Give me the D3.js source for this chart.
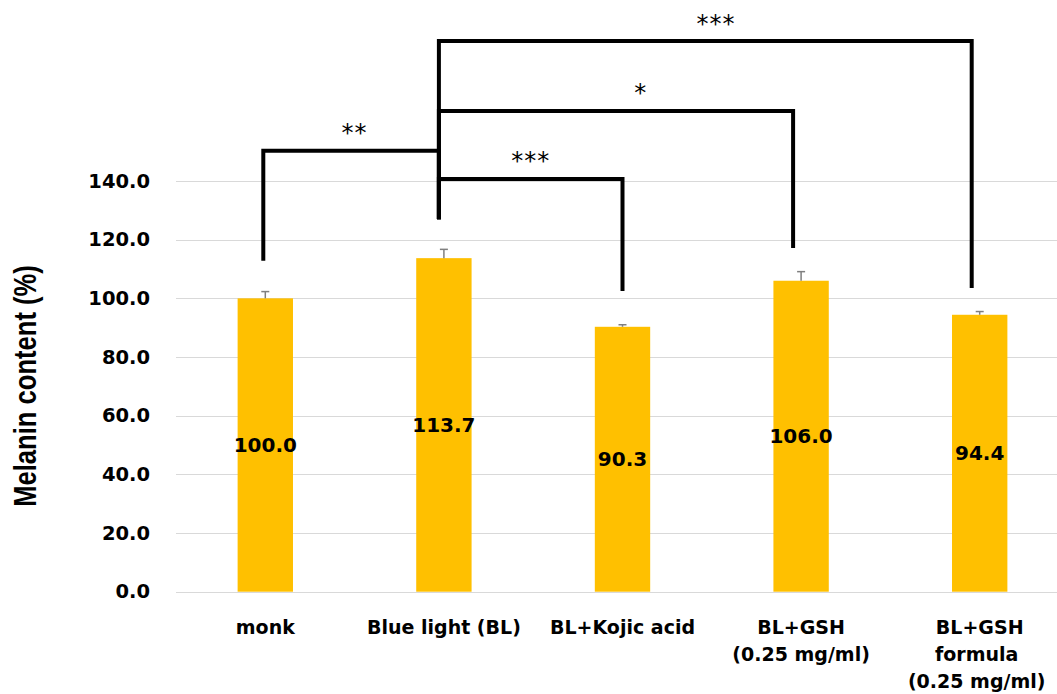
<!DOCTYPE html>
<html>
<head>
<meta charset="utf-8">
<script src="https://cdn.jsdelivr.net/npm/d3@7"></script>
<style>
  body { margin: 0; background: #fff; }
  svg { display: block; }
</style>
</head>
<body>
<div id="grafico"></div>
<script>
// Datos del grafico
var categorias = ["monk", "Blue light (BL)", "BL+Kojic acid", "BL+GSH (0.25 mg/ml)", "BL+GSH formula (0.25 mg/ml)"];
var etiquetasX = [["monk"], ["Blue light (BL)"], ["BL+Kojic acid"], ["BL+GSH", "(0.25 mg/ml)"], ["BL+GSH", "formula", "(0.25 mg/ml)"]];
var valores = [100.0, 113.7, 90.3, 106.0, 94.4];
var errores = [2.3, 3.0, 0.7, 3.1, 1.1];
var ticksY = [0, 20, 40, 60, 80, 100, 120, 140];

// Comparaciones (valores en unidades del eje Y)
var finLineas = [112.8, 127.0, 102.5, 117.2, 103.5];
var comparaciones = [
    { a: 1, b: 4, nivel: 187.7, signo: "***" },
    { a: 1, b: 3, nivel: 163.9, signo: "*" },
    { a: 0, b: 1, nivel: 150.3, signo: "**" },
    { a: 1, b: 2, nivel: 140.7, signo: "***" }
];

var width = 1057;
var height = 694;

var svg = d3.select("#grafico")
    .append("svg")
    .attr("width", width)
    .attr("height", height);

var x = d3.scaleBand()
    .domain(categorias)
    .range([176, 1069])
    .paddingInner(0.69)
    .paddingOuter(0.345);

var y = d3.scaleLinear()
    .domain([0, 140])
    .range([591.7, 181]);

function centro(i) {
    return x(categorias[i]) + x.bandwidth() / 2;
}

// Lineas de cuadricula
svg.append("g")
    .selectAll("line")
    .data(ticksY)
    .enter()
    .append("line")
    .attr("x1", 176)
    .attr("x2", width)
    .attr("y1", function(d) { return Math.round(y(d)) + 0.5; })
    .attr("y2", function(d) { return Math.round(y(d)) + 0.5; })
    .attr("stroke", "#d9d9d9")
    .attr("stroke-width", 1);

// Eje Y
var ejeY = svg.append("g")
    .attr("transform", "translate(176,0)")
    .call(d3.axisLeft(y).tickValues(ticksY).tickSize(0).tickPadding(26).tickFormat(d3.format(".1f")));
ejeY.select(".domain").remove();
ejeY.selectAll("text")
    .attr("font-family", "DejaVu Sans")
    .attr("font-weight", "bold")
    .attr("font-size", "19.5px")
    .attr("fill", "#000");

// Titulo del eje Y
svg.append("text")
    .attr("transform", "translate(36,386) rotate(-90) scale(1,1.2)")
    .attr("text-anchor", "middle")
    .attr("font-family", "Liberation Sans")
    .attr("font-weight", "bold")
    .attr("font-size", "25.6px")
    .attr("fill", "#000")
    .text("Melanin content (%)");

// Barras
svg.append("g")
    .selectAll("rect")
    .data(valores)
    .enter()
    .append("rect")
    .attr("x", function(d, i) { return x(categorias[i]); })
    .attr("y", function(d) { return y(d); })
    .attr("width", x.bandwidth())
    .attr("height", function(d) { return y(0) - y(d); })
    .attr("fill", "#ffc000");

// Barras de error
var err = svg.append("g")
    .attr("stroke", "#7f7f7f")
    .attr("stroke-width", 1.5);
valores.forEach(function(v, i) {
    var cx = centro(i);
    err.append("line")
        .attr("x1", cx).attr("x2", cx)
        .attr("y1", y(v)).attr("y2", y(v + errores[i]));
    err.append("line")
        .attr("x1", cx - 4).attr("x2", cx + 4)
        .attr("y1", y(v + errores[i])).attr("y2", y(v + errores[i]));
});

// Etiquetas de valor
svg.append("g")
    .selectAll("text")
    .data(valores)
    .enter()
    .append("text")
    .attr("x", function(d, i) { return centro(i); })
    .attr("y", function(d) { return y(d / 2) + 7; })
    .attr("text-anchor", "middle")
    .attr("font-family", "DejaVu Sans")
    .attr("font-weight", "bold")
    .attr("font-size", "20px")
    .attr("fill", "#000")
    .text(function(d) { return d3.format(".1f")(d); });

// Etiquetas del eje X
var etX = svg.append("g")
    .selectAll("text")
    .data(etiquetasX)
    .enter()
    .append("text")
    .attr("text-anchor", "middle")
    .attr("font-family", "DejaVu Sans")
    .attr("font-weight", "bold")
    .attr("font-size", "19px")
    .attr("fill", "#000");
etX.each(function(lineas, i) {
    var t = d3.select(this);
    lineas.forEach(function(l, k) {
        t.append("tspan")
            .attr("x", centro(i) + (i === 4 && k > 0 ? -3 : 0))
            .attr("y", 634 + k * 27)
            .text(l);
    });
});

// Corchetes de significancia
var desplaza = [-2, -5, 0, -8, -8];
var posSigno = [0.52, 0.57, 0.52, 0.5];
function xc(i) { return centro(i) + desplaza[i]; }

svg.append("g")
    .selectAll("path")
    .data(comparaciones)
    .enter()
    .append("path")
    .attr("d", function(c) {
        return "M" + xc(c.a) + "," + y(finLineas[c.a]) +
            "V" + y(c.nivel) +
            "H" + xc(c.b) +
            "V" + y(finLineas[c.b]);
    })
    .attr("fill", "none")
    .attr("stroke", "#000")
    .attr("stroke-width", 4)
    .attr("stroke-linejoin", "miter");

svg.append("g")
    .selectAll("text")
    .data(comparaciones)
    .enter()
    .append("text")
    .attr("x", function(c, i) { return xc(c.a) + (xc(c.b) - xc(c.a)) * posSigno[i]; })
    .attr("y", function(c) { return y(c.nivel) - 22.5 + 13; })
    .attr("text-anchor", "middle")
    .attr("font-family", "DejaVu Sans")
    .attr("font-size", "24px")
    .attr("letter-spacing", "1px")
    .attr("fill", "#000")
    .text(function(c) { return c.signo; });
</script>
</body>
</html>
